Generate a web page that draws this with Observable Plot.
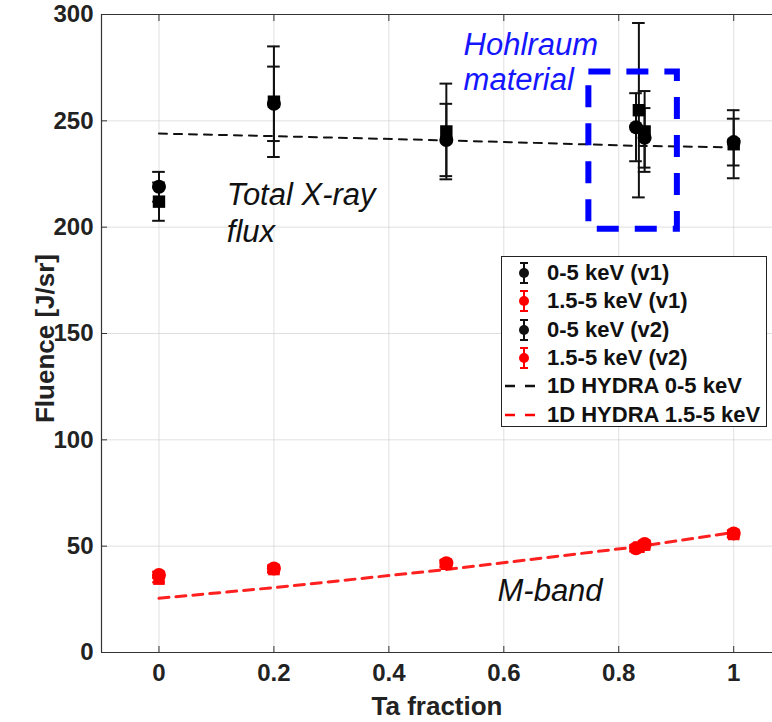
<!DOCTYPE html>
<html><head><meta charset="utf-8">
<script src="https://cdn.jsdelivr.net/npm/d3@7"></script>
<script src="https://cdn.jsdelivr.net/npm/@observablehq/plot@0.6"></script>
<style>
body{margin:0;background:#fff;}
#wrap{position:relative;width:772px;height:722px;overflow:hidden;font-family:"Liberation Sans",Arial,sans-serif;}
#legend{position:absolute;left:501px;top:256px;width:266px;height:171px;border:1.5px solid #222;background:#fff;box-sizing:border-box;}
.li{position:absolute;left:0;height:26px;display:flex;align-items:center;font-weight:bold;font-size:22px;color:#111;white-space:nowrap;}
.li svg{width:40px;height:26px;margin-right:5px;}
</style></head>
<body><div id="wrap"><div id="legend"></div></div>
<script>
// Ta fraction positions and measured fluences
const xBlackV1 = [0, 0.2, 0.5, 0.835, 0.845, 1];
const yBlackV1 = [212, 259, 245, 255, 245, 239];
const eBlackV1 = [9, 26, 22.5, 41, 19, 16];
const xBlackV2 = [0, 0.2, 0.5, 0.83, 0.845, 1];
const yBlackV2 = [219, 258, 241, 247, 242, 240];
const eBlackV2 = [7, 17.5, 17, 16, 14, 11];
const xRedV1 = [0, 0.2, 0.5, 0.835, 0.845, 1];
const yRedV1 = [34.5, 39, 41.5, 49.5, 50.5, 55.5];
const eRedV1 = [1.5, 1.5, 1.5, 1.5, 1.5, 1.5];
const xRedV2 = [0, 0.2, 0.5, 0.83, 0.845, 1];
const yRedV2 = [36.5, 39.5, 42, 49, 51, 56];
const eRedV2 = [1.5, 1.5, 1.5, 1.5, 1.5, 1.5];
// 1D HYDRA simulations
const xHydra = [0, 0.2, 0.5, 0.84, 1];
const yHydraTotal = [244, 242.8, 240.8, 238.2, 237.5];
const yHydraMband = [25.5, 30.5, 39, 50, 56.5];
// Axis ticks
const xTicks = [0, 0.2, 0.4, 0.6, 0.8, 1];
const xTickLabels = ["0", "0.2", "0.4", "0.6", "0.8", "1"];
const yTicks = [0, 50, 100, 150, 200, 250, 300];
const xLabel = "Ta fraction";
const yLabel = "Fluence [J/sr]";
// Annotations
const boxHohlraum = {x1: 0.748, x2: 0.902, y1: 199, y2: 273};
const annotations = [
  {x: 0.118, y: 215, text: "Total X-ray", color: "#111"},
  {x: 0.118, y: 197.5, text: "flux", color: "#111"},
  {x: 0.53, y: 285.5, text: "Hohlraum", color: "#1515ff"},
  {x: 0.53, y: 269, text: "material", color: "#1515ff"},
  {x: 0.589, y: 29, text: "M-band", color: "#111"}
];

const mk = (xs, ys, es) => xs.map((x, i) => ({x, y: ys[i], lo: ys[i] - es[i], hi: ys[i] + es[i]}));
const bV1 = mk(xBlackV1, yBlackV1, eBlackV1);
const bV2 = mk(xBlackV2, yBlackV2, eBlackV2);
const rV1 = mk(xRedV1, yRedV1, eRedV1);
const rV2 = mk(xRedV2, yRedV2, eRedV2);
const hT = xHydra.map((x, i) => ({x, y: yHydraTotal[i]}));
const hM = xHydra.map((x, i) => ({x, y: yHydraMband[i]}));
const capW = 0.011;

function errMarks(data, color) {
  return [
    Plot.ruleX(data, {x: "x", y1: "lo", y2: "hi", stroke: color, strokeWidth: 2}),
    Plot.ruleY(data, {y: "lo", x1: d => d.x - capW, x2: d => d.x + capW, stroke: color, strokeWidth: 2}),
    Plot.ruleY(data, {y: "hi", x1: d => d.x - capW, x2: d => d.x + capW, stroke: color, strokeWidth: 2})
  ];
}

const chart = Plot.plot({
  width: 772, height: 722,
  marginLeft: 101, marginRight: 0, marginTop: 14, marginBottom: 70,
  style: {fontFamily: "Liberation Sans, Arial, sans-serif", background: "#fff"},
  x: {domain: [-0.1, 1.0675]},
  y: {domain: [0, 300]},
  marks: [
    Plot.gridX(xTicks, {stroke: "#ccc", strokeOpacity: 0.6}),
    Plot.gridY(yTicks, {stroke: "#ccc", strokeOpacity: 0.6}),
    Plot.ruleY([0, 300], {stroke: "#333", strokeWidth: 1.2}),
    Plot.ruleX([-0.1], {stroke: "#333", strokeWidth: 1.2}),
    Plot.axisX({ticks: xTicks, tickFormat: (d, i) => xTickLabels[i], tickSize: -6, tickPadding: 17, fontSize: 24, fontWeight: "bold", label: null, stroke: "#333", color: "#222"}),
    Plot.axisX({ticks: xTicks, anchor: "top", tickSize: -6, tickFormat: () => "", label: null, stroke: "#333"}),
    Plot.axisY({ticks: yTicks, tickSize: -6, tickPadding: 14, fontSize: 24, fontWeight: "bold", label: null, stroke: "#333", color: "#222"}),
    Plot.text([xLabel], {frameAnchor: "bottom", textAnchor: "middle", dy: 62, text: d => d, fontSize: 26, fontWeight: "bold", fill: "#222"}),
    Plot.text([yLabel], {frameAnchor: "left", textAnchor: "middle", dx: -56, dy: 5, rotate: -90, text: d => d, fontSize: 26, fontWeight: "bold", fill: "#222"}),
    Plot.line(hT, {x: "x", y: "y", stroke: "#111", strokeWidth: 2, strokeDasharray: "8,7"}),
    Plot.line(hM, {x: "x", y: "y", stroke: "#ff2020", strokeWidth: 3, strokeDasharray: "10,7"}),
    ...errMarks(bV1, "#111"),
    ...errMarks(bV2, "#111"),
    ...errMarks(rV1, "red"),
    ...errMarks(rV2, "red"),
    Plot.dot(bV1, {x: "x", y: "y", symbol: "square", r: 7, fill: "#000"}),
    Plot.dot(bV2, {x: "x", y: "y", symbol: "circle", r: 7, fill: "#000"}),
    Plot.dot(rV1, {x: "x", y: "y", symbol: "square", r: 6.5, fill: "red"}),
    Plot.dot(rV2, {x: "x", y: "y", symbol: "circle", r: 7, fill: "red"}),
    Plot.rect([boxHohlraum], {x1: "x1", x2: "x2", y1: "y1", y2: "y2", fill: "none", stroke: "#0000ff", strokeWidth: 6, strokeDasharray: "22,16"}),
    Plot.text(annotations, {x: "x", y: "y", text: "text", fill: "color", fontSize: 31, fontStyle: "italic", textAnchor: "start"})
  ]
});
const wrap = document.getElementById("wrap");
wrap.insertBefore(chart, wrap.firstChild);
chart.style.position = "absolute"; chart.style.left = "0"; chart.style.top = "0";

const legendItems = [
  {label: "0-5 keV (v1)", color: "#111", type: "err"},
  {label: "1.5-5 keV (v1)", color: "red", type: "err"},
  {label: "0-5 keV (v2)", color: "#111", type: "err"},
  {label: "1.5-5 keV (v2)", color: "red", type: "err"},
  {label: "1D HYDRA 0-5 keV", color: "#111", type: "dash"},
  {label: "1D HYDRA 1.5-5 keV", color: "red", type: "dash"}
];
const leg = document.getElementById("legend");
legendItems.forEach((it, i) => {
  const d = document.createElement("div");
  d.className = "li";
  d.style.top = (3 + i * 28.3) + "px";
  const sym = it.type === "err"
    ? `<svg viewBox="0 0 40 26"><line x1="22" y1="3" x2="22" y2="23" stroke="${it.color}" stroke-width="2"/><line x1="18" y1="3" x2="26" y2="3" stroke="${it.color}" stroke-width="2"/><line x1="18" y1="23" x2="26" y2="23" stroke="${it.color}" stroke-width="2"/><circle cx="22" cy="13" r="5" fill="${it.color}"/></svg>`
    : `<svg viewBox="0 0 40 26"><line x1="3" y1="13" x2="33" y2="13" stroke="${it.color}" stroke-width="2.5" stroke-dasharray="10,10"/></svg>`;
  d.innerHTML = sym + "<span>" + it.label + "</span>";
  leg.appendChild(d);
});
</script></body></html>
